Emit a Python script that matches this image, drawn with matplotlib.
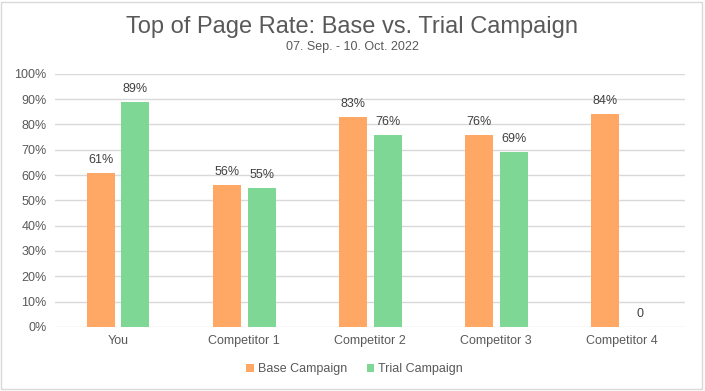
import numpy as np
import matplotlib
matplotlib.use("Agg")
import matplotlib.pyplot as plt
from matplotlib.patches import Rectangle

categories = ["You", "Competitor 1", "Competitor 2", "Competitor 3", "Competitor 4"]
base_vals = [0.61, 0.56, 0.83, 0.76, 0.84]
trial_vals = [0.89, 0.55, 0.76, 0.69, 0.0]
base_labels = ["61%", "56%", "83%", "76%", "84%"]
trial_labels = ["89%", "55%", "76%", "69%", "0"]

plt.rcParams['font.family'] = ['Liberation Sans', 'DejaVu Sans']
grey = "#595959"
orange = "#FFA764"
green = "#7ED794"

fig = plt.figure(figsize=(7.05, 3.91), dpi=100)
ax = fig.add_axes([0.078, 0.164, 0.894, 0.647])

x = np.arange(len(categories))
w = 0.222
gap = 0.055
b1 = ax.bar(x - (w + gap) / 2, base_vals, w, color=orange, label="Base Campaign", zorder=3)
b2 = ax.bar(x + (w + gap) / 2, trial_vals, w, color=green, label="Trial Campaign", zorder=3)

for bars, labels in ((b1, base_labels), (b2, trial_labels)):
    for r, lab in zip(bars, labels):
        ax.annotate(lab, (r.get_x() + r.get_width() / 2, r.get_height()),
                    xytext=(0, 5), textcoords="offset points",
                    ha="center", va="bottom", fontsize=9, color="#404040")

ax.set_xlim(-0.5, len(categories) - 0.5)
ax.set_ylim(0, 1.0)
ax.set_yticks(np.arange(0, 1.01, 0.1))
ax.set_yticklabels([f"{int(round(v * 100))}%" for v in np.arange(0, 1.01, 0.1)])
ax.set_xticks(x)
ax.set_xticklabels(categories)
ax.tick_params(axis="both", length=0, labelsize=9, labelcolor=grey, pad=6)
ax.grid(axis="y", color="#D9D9D9", linewidth=1, zorder=0)
for s in ax.spines.values():
    s.set_visible(False)

fig.text(0.5, 0.93, "Top of Page Rate: Base vs. Trial Campaign", ha="center", va="center",
         fontsize=17, color=grey)
fig.text(0.5, 0.88, "07. Sep. - 10. Oct. 2022", ha="center", va="center",
         fontsize=9, color=grey)

leg = fig.legend(handles=[b1, b2], loc="center", bbox_to_anchor=(0.503, 0.056), ncol=2,
                 frameon=False, fontsize=9, handlelength=0.6, handleheight=0.6,
                 handletextpad=0.3, columnspacing=1.6)
for t in leg.get_texts():
    t.set_color(grey)

fig.patches.append(Rectangle((0.002, 0.004), 0.994, 0.99, transform=fig.transFigure,
                             fill=False, edgecolor="#D9D9D9", linewidth=1))

fig.savefig("out.png", dpi=100)
